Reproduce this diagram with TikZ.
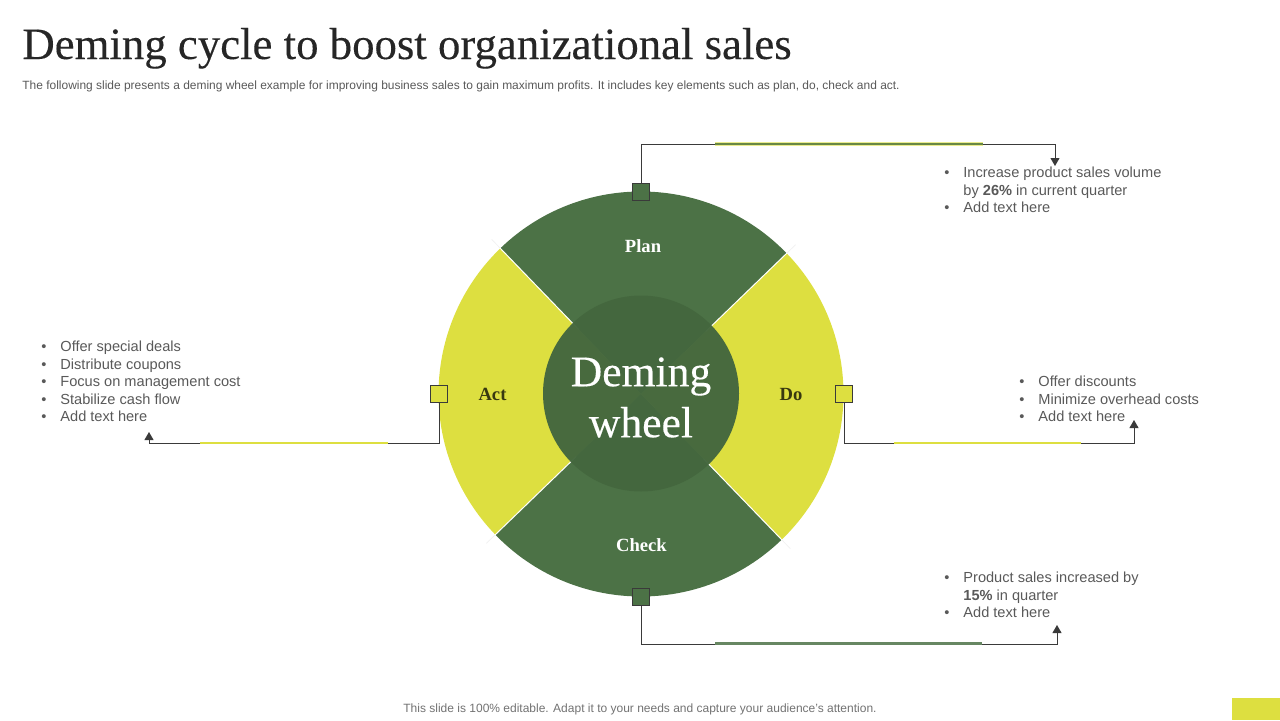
\documentclass[tikz,border=0pt]{standalone}
\usepackage{fontspec}
\setmainfont{Liberation Sans}
\newfontfamily\headfont[FakeBold=0.25]{Liberation Serif}
\newfontfamily\labelfont{Liberation Serif}
\usetikzlibrary{arrows.meta}
\definecolor{leaf}{HTML}{4C7246}
\definecolor{lime}{HTML}{DDDF40}
\definecolor{hub}{HTML}{44673E}
\definecolor{ink}{HTML}{3A3A3A}
\definecolor{bodygray}{HTML}{595959}
\newcommand{\bulletitem}[1]{\makebox[9.5pt][l]{•}#1}
\newcommand{\bulletcont}[1]{\hspace*{9.5pt}#1}
\tikzset{
keybox/.style={draw=ink,line width=0.4pt,minimum size=8.5pt,inner sep=0pt},
link/.style={draw=ink,line width=0.45pt},
linkarrow/.style={link,-{Triangle[length=4pt,width=4.5pt]}},
wheellabel/.style={font=\labelfont\bfseries\fontsize{9.3}{11}\selectfont},
listnote/.style={anchor=north west,inner sep=0pt,align=left,text=bodygray,font=\fontsize{7.3}{8.75}\selectfont}
}
\begin{document}
\begin{tikzpicture}[x=0.5pt,y=0.5pt]
\useasboundingbox (0,0) rectangle (1280,720);
\fill[lime] (1232,0) rectangle (1280,22);

\node[anchor=base west,inner sep=0pt,text=black!85,font=\headfont\fontsize{22.4}{26}\selectfont] (title) at (22,661) {Deming cycle to boost organizational sales};
\node[anchor=base west,inner sep=0pt,text=bodygray,font=\fontsize{5.98}{7}\selectfont] (subtitle) at (22,631) {The following slide presents a deming wheel example for improving business sales to gain maximum profits. It includes key elements such as plan, do, check and act.};
\node[inner sep=0pt,text=bodygray!85,font=\fontsize{6.0}{7}\selectfont] (footer) at (640,11) {This slide is 100\% editable. Adapt it to your needs and capture your audience's attention.};

\begin{scope}[shift={(641,326)}]
\fill[leaf] (0,0) -- (44:202.5) arc (44:134:202.5) -- cycle;
\fill[lime] (0,0) -- (134:202.5) arc (134:224:202.5) -- cycle;
\fill[leaf] (0,0) -- (224:202.5) arc (224:314:202.5) -- cycle;
\fill[lime] (0,0) -- (314:202.5) arc (314:404:202.5) -- cycle;
\draw[white,line width=0.5pt]
(44:90) -- (44:203)
(134:90) -- (134:203)
(224:90) -- (224:203)
(314:90) -- (314:203);
\draw[black!5,line width=0.4pt]
(44:203) -- (44:215)
(134:203) -- (134:215)
(224:203) -- (224:215)
(314:203) -- (314:215);
\end{scope}

\node[circle,fill=hub,fill opacity=0.97,minimum size=98pt,inner sep=0pt] (hub) at (641,326.5) {};
\node[text=white,align=center,inner sep=0pt,font=\headfont\fontsize{21.8}{25.5}\selectfont] (hubtext) at (641,322.5) {Deming\\wheel};

\node[wheellabel,text=white] (plan) at (643,474) {Plan};
\node[wheellabel,text=white] (check) at (641.5,175) {Check};
\node[wheellabel,text=black!75!lime] (act) at (492.5,326) {Act};
\node[wheellabel,text=black!75!lime] (do) at (791,326) {Do};

\node[keybox,fill=leaf] (plankey) at (641,528) {};
\node[keybox,fill=lime] (dokey) at (844,326) {};
\node[keybox,fill=leaf] (checkkey) at (641,123) {};
\node[keybox,fill=lime] (actkey) at (439,326) {};

\coordinate (plancorner) at (641,576);
\coordinate (plantip) at (1055,554);
\coordinate (checkcorner) at (641,76);
\coordinate (checktip) at (1057,95);
\coordinate (docorner) at (844,277);
\coordinate (dotip) at (1134,300);
\coordinate (actcorner) at (439,277);
\coordinate (acttip) at (149,288);

\draw[linkarrow] (plankey.north) -- (plancorner) -- (plancorner -| plantip) -- (plantip);
\draw[linkarrow] (checkkey.south) -- (checkcorner) -- (checkcorner -| checktip) -- (checktip);
\draw[linkarrow] (dokey.south) -- (docorner) -- (docorner -| dotip) -- (dotip);
\draw[linkarrow] (actkey.south) -- (actcorner) -- (actcorner -| acttip) -- (acttip);

\draw[lime!60,line width=1.6pt] (715,576) -- (983,576);
\draw[leaf!80!lime,line width=0.7pt] (715,576) -- (983,576);
\draw[leaf!85!white,line width=1.1pt] (715,76.5) -- (982,76.5);
\draw[lime,line width=1.2pt] (894,277) -- (1081,277);
\draw[lime,line width=1.2pt] (200,277) -- (388,277);

\node[listnote] (plannote) at (944,553) {\bulletitem{Increase product sales volume}\\\bulletcont{by \textbf{26\%} in current quarter}\\\bulletitem{Add text here}};
\node[listnote] (donote) at (1019,344) {\bulletitem{Offer discounts}\\\bulletitem{Minimize overhead costs}\\\bulletitem{Add text here}};
\node[listnote] (checknote) at (944,148) {\bulletitem{Product sales increased by}\\\bulletcont{\textbf{15\%} in quarter}\\\bulletitem{Add text here}};
\node[listnote] (actnote) at (41,379) {\bulletitem{Offer special deals}\\\bulletitem{Distribute coupons}\\\bulletitem{Focus on management cost}\\\bulletitem{Stabilize cash flow}\\\bulletitem{Add text here}};
\end{tikzpicture}
\end{document}
